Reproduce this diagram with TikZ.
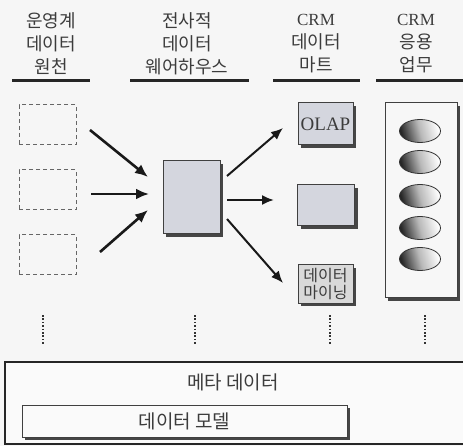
\documentclass[tikz,border=0pt]{standalone}
\usepackage{fontspec}
\setmainfont{Noto Sans CJK KR}
\newfontfamily\lat{Liberation Serif}
\usetikzlibrary{arrows.meta,shadows,shapes.geometric}
\definecolor{txt}{RGB}{60,60,60}
\definecolor{bgc}{RGB}{246,246,246}
\definecolor{boxc}{RGB}{212,214,222}
\definecolor{shd}{RGB}{70,70,70}
\begin{document}
\begin{tikzpicture}[x=1pt,y=-1pt,
  hdr/.style={align=center,text=txt,font=\fontsize{18}{23}\selectfont,inner sep=0pt},
  uline/.style={line width=3pt,black!85},
  srcbox/.style={draw=black!60,dashed,dash pattern=on 4pt off 3pt,line width=1pt,minimum width=57pt,minimum height=40pt,inner sep=0pt},
  shbox/.style={draw=black!75,line width=1pt,fill=boxc,inner sep=0pt,
     drop shadow={shadow xshift=3pt,shadow yshift=-3pt,fill=shd,opacity=1}},
  bigarrow/.style={line width=2.6pt,black!90,-{Latex[length=13pt,width=11pt]}},
  arr/.style={line width=2pt,black!90,-{Latex[length=12pt,width=10pt]}},
  dotline/.style={line width=2pt,black!80,dash pattern=on 1.6pt off 1.8pt},
  egg/.style={ellipse,minimum width=41pt,minimum height=23pt,draw=black!80,line width=0.8pt,
     left color=black!85,right color=white,middle color=gray!55,shading angle=105,inner sep=0pt},
]
\useasboundingbox (0,0) rectangle (463,446);
\fill[bgc] (0,0) rectangle (463,446);
\clip (0,0) rectangle (463,446);

% headers
\node[hdr] (h1) at (51,44) {운영계\\데이터\\원천};
\node[hdr] (h2) at (187,44) {전사적\\데이터\\웨어하우스};
\node[hdr] (h3) at (316,44) {{\lat\fontsize{17}{23}\selectfont CRM}\\데이터\\마트};
\node[hdr] (h4) at (416,44) {{\lat\fontsize{17}{23}\selectfont CRM}\\응용\\업무};
\draw[uline] (12,81) -- (90,81);
\draw[uline] (130,81) -- (249,81);
\draw[uline] (273,81) -- (360,81);
\draw[uline] (376,81) -- (463,81);

% sources
\node[srcbox] (s1) at (47.5,125) {};
\node[srcbox] (s2) at (47.5,190) {};
\node[srcbox] (s3) at (47.5,255) {};

% warehouse
\node[shbox,minimum width=57pt,minimum height=73pt] (dw) at (191.5,197.5) {};

% marts
\node[shbox,minimum width=55pt,minimum height=42pt,text=txt,font=\lat\fontsize{19}{20}\selectfont] (olap) at (325.5,124) {OLAP};
\node[shbox,minimum width=57pt,minimum height=41pt] (mart) at (326,205.5) {};
\node[shbox,minimum width=55pt,minimum height=38pt,fill=gray!30,align=center,text=txt,font=\fontsize{16}{17}\selectfont] (mine) at (325.5,284) {데이터\\마이닝};

% applications
\node[shbox,fill=white!97!black,minimum width=72pt,minimum height=195pt] (app) at (421,200.5) {};
\node[egg] (e1) at (420,131) {};
\node[egg] (e2) at (420,162) {};
\node[egg] (e3) at (420,196) {};
\node[egg] (e4) at (420,228) {};
\node[egg] (e5) at (420,259) {};

% arrows in
\coordinate (a1s) at (90,130);  \coordinate (a1e) at (148,177);
\coordinate (a2s) at (91,194);  \coordinate (a2e) at (149,194);
\coordinate (a3s) at (100,252); \coordinate (a3e) at (148,210);
\draw[bigarrow] (a1s) -- (a1e);
\draw[bigarrow] (a2s) -- (a2e);
\draw[bigarrow] (a3s) -- (a3e);

% arrows out
\coordinate (b1s) at (227,176); \coordinate (b1e) at (283,128);
\coordinate (b2s) at (227,200); \coordinate (b2e) at (274,200);
\coordinate (b3s) at (227,219); \coordinate (b3e) at (283,283);
\draw[arr] (b1s) -- (b1e);
\draw[arr] (b2s) -- (b2e);
\draw[arr] (b3s) -- (b3e);

% dotted lines
\coordinate (d1a) at (43,315);  \coordinate (d1b) at (43,344);
\coordinate (d2a) at (195,315); \coordinate (d2b) at (195,344);
\coordinate (d3a) at (330,315); \coordinate (d3b) at (330,344);
\coordinate (d4a) at (425,315); \coordinate (d4b) at (425,344);
\draw[dotline] (d1a) -- (d1b);
\draw[dotline] (d2a) -- (d2b);
\draw[dotline] (d3a) -- (d3b);
\draw[dotline] (d4a) -- (d4b);

% meta data
\draw[black!85,line width=1.2pt,fill=white!98!black] (5,362) rectangle (480,444);
\draw[black!85,line width=2.4pt] (5,444) -- (480,444);
\node[text=txt,font=\fontsize{19}{20}\selectfont,inner sep=0pt] (meta) at (233,382) {메타 데이터};
\node[shbox,fill=white!98!black,minimum width=325pt,minimum height=32pt,text=txt,font=\fontsize{19}{20}\selectfont] (model) at (184.5,421) {데이터 모델};
\end{tikzpicture}
\end{document}
